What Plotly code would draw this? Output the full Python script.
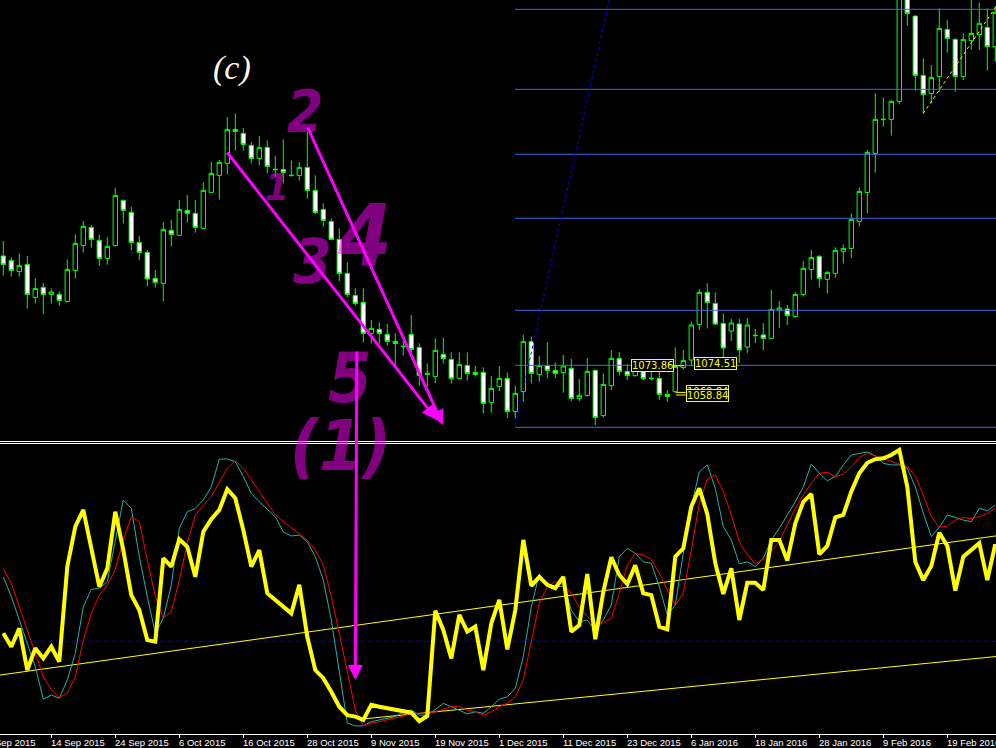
import plotly.graph_objects as go

# ---------------- data ----------------
bars = list(range(125))

opens = [1128.5, 1126.2, 1120.7, 1124.3, 1107.8, 1112.8, 1109.3, 1109.3, 1105.8, 1121.3,
         1133.8, 1142.8, 1136.3, 1127.3, 1133.7, 1156.3, 1150.3, 1135.2, 1130.3, 1117.3,
         1114.8, 1141.3, 1138.8, 1151.3, 1149.8, 1142.3, 1160.3, 1168.8, 1174.8, 1191.8,
         1189.8, 1183.8, 1177.3, 1182.8, 1171.9, 1171.8, 1168.9, 1168.8, 1172.8, 1161.3,
         1151.8, 1145.8, 1136.8, 1119.8, 1108.8, 1105.3, 1089.8, 1091.8, 1089.3, 1085.8,
         1083.4, 1089.3, 1082.8, 1069.3, 1068.2, 1079.3, 1076.8, 1067.3, 1073.8, 1070.3,
         1070.3, 1055.3, 1063.2, 1067.3, 1050.7, 1060.7, 1085.7, 1069.3, 1073.7, 1071.3,
         1070.2, 1072.3, 1057.3, 1058.8, 1071.3, 1048.7, 1063.7, 1077.3, 1070.8, 1068.7,
         1074.0, 1067.4, 1067.3, 1059.3, 1060.7, 1072.7, 1076.5, 1094.3, 1110.3, 1104.8,
         1094.8, 1091.0, 1094.5, 1083.0, 1088.9, 1089.0, 1087.2, 1101.5, 1102.0, 1098.2,
         1109.2, 1121.8, 1128.3, 1116.8, 1119.8, 1130.8, 1132.3, 1145.8, 1160.3, 1179.8,
         1196.9, 1196.8, 1205.8, 1257.5, 1248.5, 1218.8, 1209.8, 1218.2, 1241.8, 1236.8,
         1218.2, 1236.2, 1239.2, 1242.8, 1233.2]
highs = [1136.0, 1127.8, 1129.8, 1128.5, 1117.3, 1115.0, 1112.3, 1110.8, 1126.8, 1139.3,
         1146.0, 1143.8, 1139.2, 1138.0, 1162.5, 1156.8, 1153.0, 1138.5, 1131.5, 1121.5,
         1145.5, 1146.5, 1156.5, 1159.0, 1156.5, 1165.3, 1175.5, 1176.5, 1198.0, 1199.8,
         1192.5, 1185.5, 1188.5, 1186.3, 1178.5, 1186.8, 1176.3, 1175.5, 1190.5, 1168.8,
         1154.8, 1147.3, 1142.3, 1125.3, 1112.3, 1112.3, 1096.5, 1095.3, 1094.5, 1089.8,
         1086.3, 1099.0, 1084.8, 1074.8, 1087.3, 1087.8, 1080.3, 1080.3, 1080.3, 1073.7,
         1072.8, 1068.5, 1073.5, 1070.2, 1063.5, 1089.0, 1088.2, 1078.5, 1085.3, 1075.3,
         1079.0, 1077.0, 1067.0, 1077.5, 1071.8, 1069.8, 1081.5, 1080.5, 1074.5, 1076.5,
         1075.7, 1071.8, 1070.7, 1061.5, 1082.8, 1081.5, 1095.7, 1112.0, 1114.8, 1110.3,
         1099.8, 1097.0, 1097.0, 1097.5, 1092.0, 1095.0, 1111.5, 1106.0, 1104.0, 1110.3,
         1126.0, 1131.5, 1129.0, 1121.0, 1132.8, 1134.3, 1149.8, 1162.8, 1181.5, 1209.8,
         1207.8, 1206.5, 1263.0, 1262.0, 1248.5, 1227.3, 1224.0, 1252.3, 1246.5, 1237.3,
         1239.8, 1258.0, 1255.2, 1252.3, 1253.5]
lows = [1118.7, 1118.2, 1118.2, 1102.2, 1104.8, 1099.3, 1104.7, 1103.7, 1105.2, 1117.3,
        1130.2, 1132.7, 1123.7, 1124.2, 1133.2, 1144.8, 1131.2, 1126.5, 1113.2, 1112.7,
        1105.7, 1133.2, 1138.8, 1145.2, 1140.2, 1142.2, 1160.3, 1156.7, 1169.3, 1181.2,
        1181.2, 1174.8, 1173.8, 1169.8, 1168.2, 1164.8, 1168.3, 1166.2, 1157.2, 1149.5,
        1143.2, 1136.3, 1116.0, 1107.8, 1103.8, 1085.3, 1084.8, 1084.7, 1083.7, 1073.2,
        1078.7, 1080.3, 1063.7, 1063.2, 1064.8, 1074.8, 1064.7, 1067.2, 1066.2, 1068.2,
        1049.8, 1050.2, 1061.0, 1047.3, 1047.3, 1055.7, 1064.8, 1065.7, 1067.3, 1067.3,
        1060.2, 1056.0, 1056.0, 1058.2, 1044.0, 1047.8, 1061.5, 1068.7, 1066.5, 1068.2,
        1066.5, 1066.5, 1056.5, 1055.7, 1059.8, 1071.8, 1073.2, 1091.5, 1092.3, 1094.0,
        1075.0, 1086.0, 1075.0, 1080.0, 1085.0, 1081.5, 1086.8, 1092.5, 1094.0, 1097.7,
        1108.2, 1116.8, 1112.7, 1109.7, 1117.7, 1124.7, 1127.3, 1143.2, 1149.7, 1170.2,
        1193.2, 1188.7, 1204.3, 1243.7, 1211.2, 1199.8, 1204.8, 1210.7, 1230.2, 1210.7,
        1216.5, 1231.8, 1231.5, 1221.2, 1225.7]
closes = [1124.3, 1121.3, 1123.8, 1109.3, 1112.2, 1109.3, 1110.5, 1106.3, 1121.8, 1134.8,
          1143.3, 1136.8, 1127.3, 1133.3, 1158.8, 1151.3, 1135.3, 1130.3, 1117.0, 1115.3,
          1141.8, 1139.3, 1151.8, 1149.8, 1142.8, 1161.3, 1169.8, 1175.3, 1191.8, 1190.8,
          1184.3, 1177.3, 1182.8, 1173.3, 1171.7, 1170.3, 1168.7, 1172.8, 1161.3, 1150.3,
          1146.3, 1136.8, 1119.8, 1109.3, 1104.8, 1089.8, 1092.3, 1089.8, 1085.8, 1084.8,
          1083.2, 1081.8, 1068.8, 1069.8, 1081.3, 1077.3, 1067.3, 1074.3, 1069.8, 1069.3,
          1054.8, 1062.3, 1067.3, 1050.7, 1059.8, 1085.7, 1069.8, 1073.7, 1071.3, 1069.7,
          1073.5, 1057.3, 1058.8, 1070.8, 1047.8, 1064.3, 1077.3, 1070.7, 1068.7, 1075.3,
          1067.3, 1067.2, 1059.3, 1058.3, 1073.2, 1076.2, 1094.0, 1110.3, 1105.3, 1094.5,
          1082.5, 1095.0, 1081.5, 1094.0, 1088.7, 1087.2, 1101.8, 1102.5, 1098.7, 1109.3,
          1122.3, 1127.8, 1117.3, 1120.3, 1131.3, 1132.3, 1146.8, 1160.8, 1180.3, 1196.8,
          1196.7, 1205.8, 1258.0, 1249.8, 1218.8, 1209.3, 1217.8, 1242.3, 1237.3, 1218.2,
          1236.8, 1239.8, 1244.8, 1233.2, 1250.3]

# oscillator (lower window)
osc_main = [33.6, 29.1, 35.2, 21.3, 28.6, 25.2, 29.1, 24.1, 55.8, 69.1,
            74.7, 61.3, 49.1, 55.2, 74.1, 61.3, 46.3, 41.3, 31.3, 30.8,
            58.6, 55.8, 64.9, 62.4, 52.4, 67.4, 71.6, 74.7, 81.6, 78.6,
            68.0, 55.8, 61.3, 46.9, 44.7, 42.4, 40.2, 49.7, 32.4, 21.3,
            18.6, 14.1, 9.1, 6.3, 5.8, 4.7, 9.7, 9.1, 8.6, 8.2,
            7.8, 7.1, 4.3, 6.0, 41.1, 34.7, 25.2, 39.7, 34.1, 35.8,
            21.3, 36.9, 44.7, 28.2, 41.3, 64.7, 49.4, 52.4, 49.7, 48.6,
            52.4, 34.1, 36.3, 53.3, 31.6, 47.4, 58.9, 53.0, 50.0, 56.2,
            46.9, 46.3, 35.8, 34.9, 59.1, 61.9, 75.8, 81.9, 73.3, 56.9,
            46.7, 55.2, 38.0, 50.4, 50.4, 48.0, 64.7, 64.7, 57.8, 70.2,
            77.4, 80.0, 59.9, 62.7, 72.2, 73.0, 80.8, 86.9, 90.4, 91.6,
            91.9, 93.0, 94.7, 82.4, 57.4, 51.3, 56.0, 67.1, 62.7, 47.8,
            59.1, 61.3, 63.6, 51.3, 63.3]
osc_fast = [52.4, 45.8, 38.0, 30.2, 22.4, 11.6, 13.0, 11.9, 18.0, 26.9,
            42.4, 48.2, 48.6, 50.8, 64.1, 78.0, 75.2, 59.1, 45.8, 33.6,
            38.6, 49.7, 68.6, 74.1, 75.2, 78.0, 82.4, 91.6, 91.7, 90.8,
            85.8, 80.2, 77.4, 74.9, 72.4, 67.4, 66.0, 66.3, 64.1, 59.1,
            51.3, 38.0, 20.2, 3.6, 2.7, 2.7, 4.1, 4.7, 5.2, 5.8,
            7.4, 8.0, 6.3, 6.3, 8.2, 10.2, 9.1, 8.0, 6.7, 7.4,
            6.9, 9.1, 11.6, 12.4, 15.2, 25.8, 42.4, 53.3, 50.0, 49.3,
            49.1, 41.3, 37.4, 38.0, 34.4, 38.0, 43.0, 59.1, 61.9, 60.2,
            57.4, 56.9, 49.1, 39.7, 43.0, 60.2, 75.8, 87.4, 89.7, 81.9,
            69.1, 64.7, 56.7, 57.4, 55.8, 58.6, 64.7, 68.6, 73.0, 77.4,
            82.4, 90.0, 86.9, 84.4, 85.8, 89.7, 93.0, 93.6, 94.0, 92.7,
            90.2, 89.7, 89.7, 88.6, 82.4, 73.6, 65.8, 68.9, 73.0, 72.2,
            71.3, 70.8, 75.2, 74.4, 76.3]
osc_slow = [55.2, 50.2, 42.4, 34.7, 26.9, 19.1, 14.7, 12.2, 13.6, 19.1,
            31.3, 40.2, 46.3, 49.7, 54.7, 64.7, 72.4, 70.8, 58.0, 45.8,
            38.6, 40.8, 51.3, 63.6, 73.0, 76.3, 79.1, 84.1, 88.6, 91.1,
            88.6, 84.7, 80.8, 76.9, 73.0, 70.8, 68.6, 66.7, 64.7, 61.3,
            56.3, 45.8, 33.6, 20.2, 8.0, 2.7, 3.6, 4.1, 4.7, 5.2,
            6.0, 6.9, 6.9, 6.9, 7.4, 8.2, 9.1, 9.1, 8.0, 7.4,
            6.3, 7.4, 9.1, 10.2, 12.4, 18.0, 31.3, 43.6, 49.1, 50.8,
            49.7, 46.9, 42.4, 39.1, 36.7, 37.1, 38.6, 46.9, 56.3, 60.2,
            59.7, 58.2, 53.6, 48.0, 43.0, 46.9, 61.3, 76.9, 84.9, 86.3,
            80.8, 73.0, 64.1, 59.7, 56.7, 58.2, 60.8, 64.1, 69.7, 75.2,
            79.7, 83.6, 86.9, 87.2, 85.8, 86.6, 89.1, 92.2, 93.6, 92.7,
            91.9, 91.1, 90.2, 89.1, 86.0, 79.7, 72.4, 68.9, 69.3, 71.3,
            72.2, 71.8, 72.4, 73.6, 75.2]
osc_level = 30.9

tick_bars = [-2, 6, 14, 22, 30, 38, 46, 54, 62, 70, 78, 86, 94, 102, 110, 118]
tick_labels = ["4 Sep 2015", "14 Sep 2015", "24 Sep 2015", "6 Oct 2015", "16 Oct 2015",
               "28 Oct 2015", "9 Nov 2015", "19 Nov 2015", "1 Dec 2015", "11 Dec 2015",
               "23 Dec 2015", "6 Jan 2016", "18 Jan 2016", "28 Jan 2016", "9 Feb 2016",
               "19 Feb 2016"]

fib_levels = [1251.85, 1211.85, 1179.35, 1147.35, 1101.35, 1073.85, 1042.85]
fib_start_bar = 63.96

fan_bars = [64.0, 75.75]
fan_prices = [1044.0, 1256.5]
up_trend_bars = [115, 124]
up_trend_prices = [1199.8, 1252.6]
osc_trend_a_bars = [0, 124]
osc_trend_a_vals = [19.8, 66.0]
osc_trend_b_bars = [44.5, 124]
osc_trend_b_vals = [4.9, 25.8]

label_texts = ["1073.86", "1074.51", "1060.84", "1058.84"]
label_bars = [83.8, 86.35, 85.3, 85.3]
label_prices = [1073.86, 1074.51, 1060.84, 1058.84]
label_anchors = ["right", "left", "left", "left"]
link_bars = [[83.8, 85.1], [84.1, 85.3], [84.1, 85.3]]
link_prices = [1073.6, 1060.3, 1059.0]

wave_texts = ["1", "2", "3", "4", "5", "(1)"]
wave_bars = [34.2, 37.7, 38.6, 45.2, 43.3, 42.1]
wave_prices = [1163.0, 1200.5, 1126.0, 1139.0, 1067.5, 1055.0]
wave_sizes = [38, 58, 62, 86, 70, 70]

# ---------------- figure ----------------
X_MIN, X_MAX = -0.4125, 124.0875
GREEN = "#00FF00"
FIB_BLUE = "#4466E0"


def extend(bx, vy, x0, x1):
    k = (vy[1] - vy[0]) / (bx[1] - bx[0])
    return [x0, x1], [vy[0] + k * (x0 - bx[0]), vy[0] + k * (x1 - bx[0])]


fig = go.Figure()

for lvl in fib_levels:
    fig.add_trace(go.Scatter(x=[fib_start_bar, X_MAX + 1], y=[lvl, lvl], mode="lines",
                             line=dict(color=FIB_BLUE, width=1), yaxis="y", hoverinfo="skip"))

fx, fy = extend(fan_bars, fan_prices, fan_bars[0], 80)
fig.add_trace(go.Scatter(x=fx, y=fy, mode="lines", line=dict(color="#0000FF", width=1, dash="dot"),
                         yaxis="y", hoverinfo="skip"))

fig.add_trace(go.Candlestick(
    x=bars, open=opens, high=highs, low=lows, close=closes,
    increasing=dict(line=dict(color=GREEN, width=1), fillcolor="#000000"),
    decreasing=dict(line=dict(color=GREEN, width=1), fillcolor="#FFFFFF"),
    whiskerwidth=0, yaxis="y", hoverinfo="skip"))

ux, uy = extend(up_trend_bars, up_trend_prices, up_trend_bars[0], X_MAX + 1)
fig.add_trace(go.Scatter(x=ux, y=uy, mode="lines", line=dict(color="#FFFF00", width=1, dash="dot"),
                         yaxis="y", hoverinfo="skip"))

for lb, lp in zip(link_bars, link_prices):
    fig.add_trace(go.Scatter(x=lb, y=[lp, lp], mode="lines", line=dict(color="#FFFF00", width=1),
                             yaxis="y", hoverinfo="skip"))

# lower window
fig.add_trace(go.Scatter(x=[X_MIN - 1, X_MAX + 1], y=[osc_level, osc_level], mode="lines",
                         line=dict(color="#0000DD", width=1, dash="5px,3px"), yaxis="y2", hoverinfo="skip"))
ax_, ay_ = extend(osc_trend_a_bars, osc_trend_a_vals, X_MIN - 1, X_MAX + 1)
fig.add_trace(go.Scatter(x=ax_, y=ay_, mode="lines", line=dict(color="#FFFF00", width=1),
                         yaxis="y2", hoverinfo="skip"))
bx_, by_ = extend(osc_trend_b_bars, osc_trend_b_vals, osc_trend_b_bars[0], X_MAX + 1)
fig.add_trace(go.Scatter(x=bx_, y=by_, mode="lines", line=dict(color="#FFFF00", width=1),
                         yaxis="y2", hoverinfo="skip"))
fig.add_trace(go.Scatter(x=bars, y=osc_fast, mode="lines", line=dict(color="#20B2AA", width=1),
                         yaxis="y2", hoverinfo="skip"))
fig.add_trace(go.Scatter(x=bars, y=osc_slow, mode="lines", line=dict(color="#FF0000", width=1),
                         yaxis="y2", hoverinfo="skip"))
fig.add_trace(go.Scatter(x=bars, y=osc_main, mode="lines", line=dict(color="#FFFF00", width=4),
                         yaxis="y2", hoverinfo="skip"))

annotations = []

# wave labels (semi-transparent purple)
for t, b, p, s in zip(wave_texts, wave_bars, wave_prices, wave_sizes):
    annotations.append(dict(x=b, y=p, xref="x", yref="y", text="<b><i>" + t + "</i></b>",
                            showarrow=False, yanchor="top" if t == "(1)" else "middle",
                            font=dict(family="Liberation Sans Narrow, DejaVu Sans Condensed, DejaVu Sans",
                                      size=s, color="rgba(255,0,255,0.5)")))

annotations.append(dict(x=28.6, y=1222.5, xref="x", yref="y", text="<i>(c)</i>", showarrow=False,
                        font=dict(family="Liberation Serif, DejaVu Serif", size=34, color="#FFF8E8")))

# arrows
for (tb, tp, hb, hp) in [(27.84, 1181.0, 54.2, 1046.5), (37.96, 1193.5, 54.96, 1044.0)]:
    annotations.append(dict(x=hb, y=hp, ax=tb, ay=tp, xref="x", yref="y", axref="x", ayref="y",
                            text="", showarrow=True, arrowhead=2, arrowsize=1, arrowwidth=3,
                            arrowcolor="#FF00FF", standoff=0))
annotations.append(dict(x=44.0, y=18.0, ax=44.2, ay=128.0, xref="x", yref="y2", axref="x", ayref="y2",
                        text="", showarrow=True, arrowhead=2, arrowsize=1, arrowwidth=3,
                        arrowcolor="#FF00FF", standoff=0))

# price labels
for t, b, p, a in zip(label_texts, label_bars, label_prices, label_anchors):
    annotations.append(dict(x=b, y=p, xref="x", yref="y", text=t, showarrow=False, xanchor=a,
                            bgcolor="#000000", bordercolor="#FFFF00", borderwidth=1, borderpad=0,
                            font=dict(family="DejaVu Sans, Liberation Sans", size=10, color="#FFFF00")))

# date labels (left aligned at their tick)
for b, t in zip(tick_bars, tick_labels):
    annotations.append(dict(x=(b - X_MIN) / (X_MAX - X_MIN), y=0, xref="paper", yref="paper",
                            text=t, showarrow=False, xanchor="left", yanchor="top", xshift=-2, yshift=-1,
                            font=dict(family="Liberation Sans, Arial", size=9.5, color="#FFFFFF")))

shapes = [
    dict(type="line", xref="paper", x0=0, x1=1, yref="y domain", y0=0, y1=0,
         line=dict(color="#FFFFFF", width=1)),
    dict(type="line", xref="paper", x0=0, x1=1, yref="y2 domain", y0=1, y1=1,
         line=dict(color="#FFFFFF", width=1)),
]

fig.update_layout(
    width=996, height=748, margin=dict(l=0, r=0, t=0, b=14),
    paper_bgcolor="#000000", plot_bgcolor="#000000", showlegend=False,
    boxgap=0.45, boxgroupgap=0,
    xaxis=dict(range=[X_MIN, X_MAX], anchor="y2", showgrid=False, zeroline=False,
               showline=True, linecolor="#FFFFFF", linewidth=1,
               ticks="outside", ticklen=3, tickcolor="#FFFFFF",
               tickvals=[b for b in tick_bars if b >= X_MIN], showticklabels=False,
               rangeslider=dict(visible=False)),
    yaxis=dict(domain=[0.398501, 1.0], range=[1035.75, 1256.5], visible=False, fixedrange=True),
    yaxis2=dict(domain=[0.0, 0.395777], range=[0.0, 96.833], visible=False, fixedrange=True),
    annotations=annotations, shapes=shapes,
)

fig.write_html("out.html", config={"displayModeBar": False},
               post_script="document.body.style.margin='0';document.body.style.background='#000';")
